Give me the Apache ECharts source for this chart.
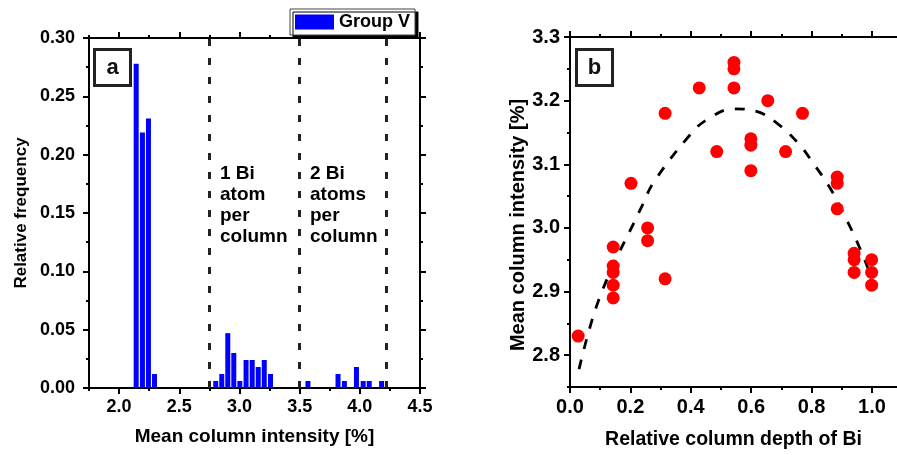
<!DOCTYPE html>
<html>
<head>
<meta charset="utf-8">
<title>Bi column intensity</title>
<script src="https://cdn.jsdelivr.net/npm/echarts@6/dist/echarts.min.js"></script>
<style>
  html, body { margin: 0; padding: 0; background: #fff; }
  #main { width: 897px; height: 455px; }
</style>
</head>
<body>
<div id="main"></div>
<script>
// panel a - histogram of mean column intensity
var binCenters = [2.142, 2.194, 2.244, 2.294,
  2.803, 2.853, 2.903, 2.953, 3.003, 3.055, 3.106, 3.156, 3.206, 3.258,
  3.569, 3.819, 3.872, 3.972, 4.028, 4.078, 4.181];
var relFreq = [0.278, 0.219, 0.231, 0.012,
  0.006, 0.012, 0.047, 0.030, 0.006, 0.024, 0.024, 0.018, 0.024, 0.012,
  0.006, 0.012, 0.006, 0.018, 0.006, 0.006, 0.006];
var dividers = [2.755, 3.5, 4.222];
var xTicksA = [2.0, 2.5, 3.0, 3.5, 4.0, 4.5];
var xMinorA = [1.75, 2.25, 2.75, 3.25, 3.75, 4.25];

// panel b - mean column intensity vs relative depth
var depth = [0.027, 0.143, 0.143, 0.143, 0.143, 0.143, 0.202, 0.257, 0.257, 0.315, 0.315,
  0.428, 0.486, 0.543, 0.543, 0.543, 0.599, 0.599, 0.599, 0.655, 0.714, 0.770,
  0.885, 0.885, 0.885, 0.941, 0.941, 0.941, 0.999, 0.999, 0.999];
var intensity = [2.83, 2.97, 2.94, 2.93, 2.91, 2.89, 3.07, 3.00, 2.98, 3.18, 2.92,
  3.22, 3.12, 3.26, 3.25, 3.22, 3.14, 3.13, 3.09, 3.20, 3.12, 3.18,
  3.08, 3.07, 3.03, 2.96, 2.95, 2.93, 2.95, 2.93, 2.91];
// dashed fit curve
var fitX = [0.03, 0.1, 0.243, 0.276, 0.397, 0.453, 0.541, 0.618, 0.684, 0.756, 0.811, 0.861, 0.916, 0.960, 0.999];
var fitY = [2.778, 2.893, 3.039, 3.071, 3.146, 3.170, 3.187, 3.183, 3.165, 3.133, 3.098, 3.063, 3.013, 2.968, 2.922];
var xTicksB = [0.0, 0.2, 0.4, 0.6, 0.8, 1.0];
var xMinorB = [0.1, 0.3, 0.5, 0.7, 0.9];
var yTicksB = [2.8, 2.9, 3.0, 3.1, 3.2, 3.3];
var yMinorB = [2.75, 2.85, 2.95, 3.05, 3.15, 3.25];

var font = 'Liberation Sans, Arial, sans-serif';
function txt(size) {
  return { fontFamily: font, fontWeight: 'bold', fontSize: size, color: '#000' };
}

function zip(a, b) {
  var out = [];
  for (var i = 0; i < a.length; i++) out.push([a[i], b[i]]);
  return out;
}

// axis that only draws ticks (and labels) at given values
function tickAxis(grid, pos, min, max, ticks, len, showLine, fmt, size) {
  return {
    type: 'value', gridIndex: grid, position: pos, min: min, max: max,
    axisLine: { show: showLine, onZero: false, lineStyle: { color: '#000', width: 2 } },
    axisTick: { show: true, customValues: ticks, length: len, lineStyle: { color: '#000', width: 2 } },
    axisLabel: fmt ? Object.assign({ show: true, customValues: ticks, formatter: fmt, margin: 10 }, txt(size)) : { show: false },
    splitLine: { show: false }
  };
}

var chart = echarts.init(document.getElementById('main'));

var fmt1 = function (v) { return v.toFixed(1); };

var xA = tickAxis(0, 'bottom', 1.75, 4.5, xTicksA, 6, true, fmt1, 18);
xA.name = 'Mean column intensity [%]';
xA.nameLocation = 'middle';
xA.nameGap = 39;
xA.nameTextStyle = txt(19);

var xB = tickAxis(1, 'bottom', 0, 1.083, xTicksB, 6, true, fmt1, 20);
xB.name = 'Relative column depth of Bi';
xB.nameLocation = 'middle';
xB.nameGap = 43;
xB.nameTextStyle = txt(19.5);

var yB = tickAxis(1, 'left', 2.75, 3.3, yTicksB, 6, true, fmt1, 20);

var yAleft = {
  type: 'value', gridIndex: 0, position: 'left', min: 0, max: 0.3, interval: 0.05,
  name: 'Relative frequency', nameLocation: 'middle', nameGap: 59, nameTextStyle: txt(17),
  axisLine: { show: true, lineStyle: { color: '#000', width: 2 } },
  axisTick: { length: 6, lineStyle: { color: '#000', width: 2 } },
  minorTick: { show: true, splitNumber: 2, length: 3, lineStyle: { color: '#000', width: 2 } },
  axisLabel: Object.assign({ margin: 14, formatter: function (v) { return v.toFixed(2); } }, txt(18)),
  splitLine: { show: false }, minorSplitLine: { show: false }
};
var yAright = {
  type: 'value', gridIndex: 0, position: 'right', min: 0, max: 0.3, interval: 0.05,
  axisLine: { show: true, lineStyle: { color: '#000', width: 2 } },
  axisTick: { length: 6, lineStyle: { color: '#000', width: 2 } },
  minorTick: { show: true, splitNumber: 2, length: 3, lineStyle: { color: '#000', width: 2 } },
  axisLabel: { show: false },
  splitLine: { show: false }
};

var option = {
  animation: false,
  backgroundColor: '#fff',
  grid: [
    { left: 89, top: 38, width: 331, height: 350 },
    { left: 570, top: 37, width: 327, height: 351 }
  ],
  legend: {
    data: ['Group V'],
    left: 290, top: 9,
    padding: [4, 5, 4, 5],
    itemWidth: 39, itemHeight: 15,
    icon: 'rect',
    selectedMode: false,
    backgroundColor: '#fff',
    borderColor: '#444', borderWidth: 1,
    shadowColor: '#000', shadowBlur: 0, shadowOffsetX: 3, shadowOffsetY: 3,
    textStyle: txt(18)
  },
  xAxis: [
    xA,
    tickAxis(0, 'bottom', 1.75, 4.5, xMinorA, 3, false),
    tickAxis(0, 'top', 1.75, 4.5, xTicksA, 6, true),
    tickAxis(0, 'top', 1.75, 4.5, xMinorA, 3, false),
    xB,
    tickAxis(1, 'bottom', 0, 1.083, xMinorB, 3, false),
    tickAxis(1, 'top', 0, 1.083, xTicksB, 6, true),
    tickAxis(1, 'top', 0, 1.083, xMinorB, 3, false)
  ],
  yAxis: [
    yAleft,
    yAright,
    yB,
    tickAxis(1, 'left', 2.75, 3.3, yMinorB, 3, false)
  ],
  series: [
    {
      name: 'Group V',
      type: 'bar',
      xAxisIndex: 0, yAxisIndex: 0,
      barWidth: 5,
      itemStyle: { color: '#0000ff' },
      data: zip(binCenters, relFreq),
      markLine: {
        silent: true,
        symbol: 'none',
        label: { show: false },
        lineStyle: { color: '#222', width: 3, type: [7, 12] },
        data: dividers.map(function (d) { return { xAxis: d }; })
      }
    },
    {
      name: 'data',
      type: 'scatter',
      xAxisIndex: 4, yAxisIndex: 2,
      symbolSize: 13,
      itemStyle: { color: '#ff0000', opacity: 1 },
      data: zip(depth, intensity)
    },
    {
      name: 'fit',
      type: 'line',
      xAxisIndex: 4, yAxisIndex: 2,
      smooth: 0.4,
      showSymbol: false,
      symbol: 'none',
      lineStyle: { color: '#000', width: 2.8, type: [10, 11] },
      data: zip(fitX, fitY),
      z: 1
    }
  ],
  graphic: [
    // panel labels
    { type: 'rect', shape: { x: 94.5, y: 49.5, width: 36, height: 36 }, style: { fill: '#fff', stroke: '#222', lineWidth: 3 } },
    { type: 'text', x: 112.5, y: 68, style: { text: 'a', fill: '#111', font: 'bold 22px ' + font, textAlign: 'center', textVerticalAlign: 'middle' } },
    { type: 'rect', shape: { x: 576.5, y: 49.5, width: 36, height: 36 }, style: { fill: '#fff', stroke: '#222', lineWidth: 3 } },
    { type: 'text', x: 594.5, y: 68, style: { text: 'b', fill: '#111', font: 'bold 22px ' + font, textAlign: 'center', textVerticalAlign: 'middle' } },
    // y title of panel b (sits a bit below the plot centre)
    { type: 'text', x: 518, y: 225, rotation: Math.PI / 2,
      style: { text: 'Mean column intensity [%]', fill: '#000', font: 'bold 20px ' + font, textAlign: 'center', textVerticalAlign: 'middle' } },
    // annotations between the dashed lines
    { type: 'text', x: 220, y: 163, style: { text: '1 Bi\natom\nper\ncolumn', fill: '#000', font: 'bold 19px ' + font, lineHeight: 21 } },
    { type: 'text', x: 310, y: 163, style: { text: '2 Bi\natoms\nper\ncolumn', fill: '#000', font: 'bold 19px ' + font, lineHeight: 21 } }
  ]
};

chart.setOption(option);
</script>
</body>
</html>
